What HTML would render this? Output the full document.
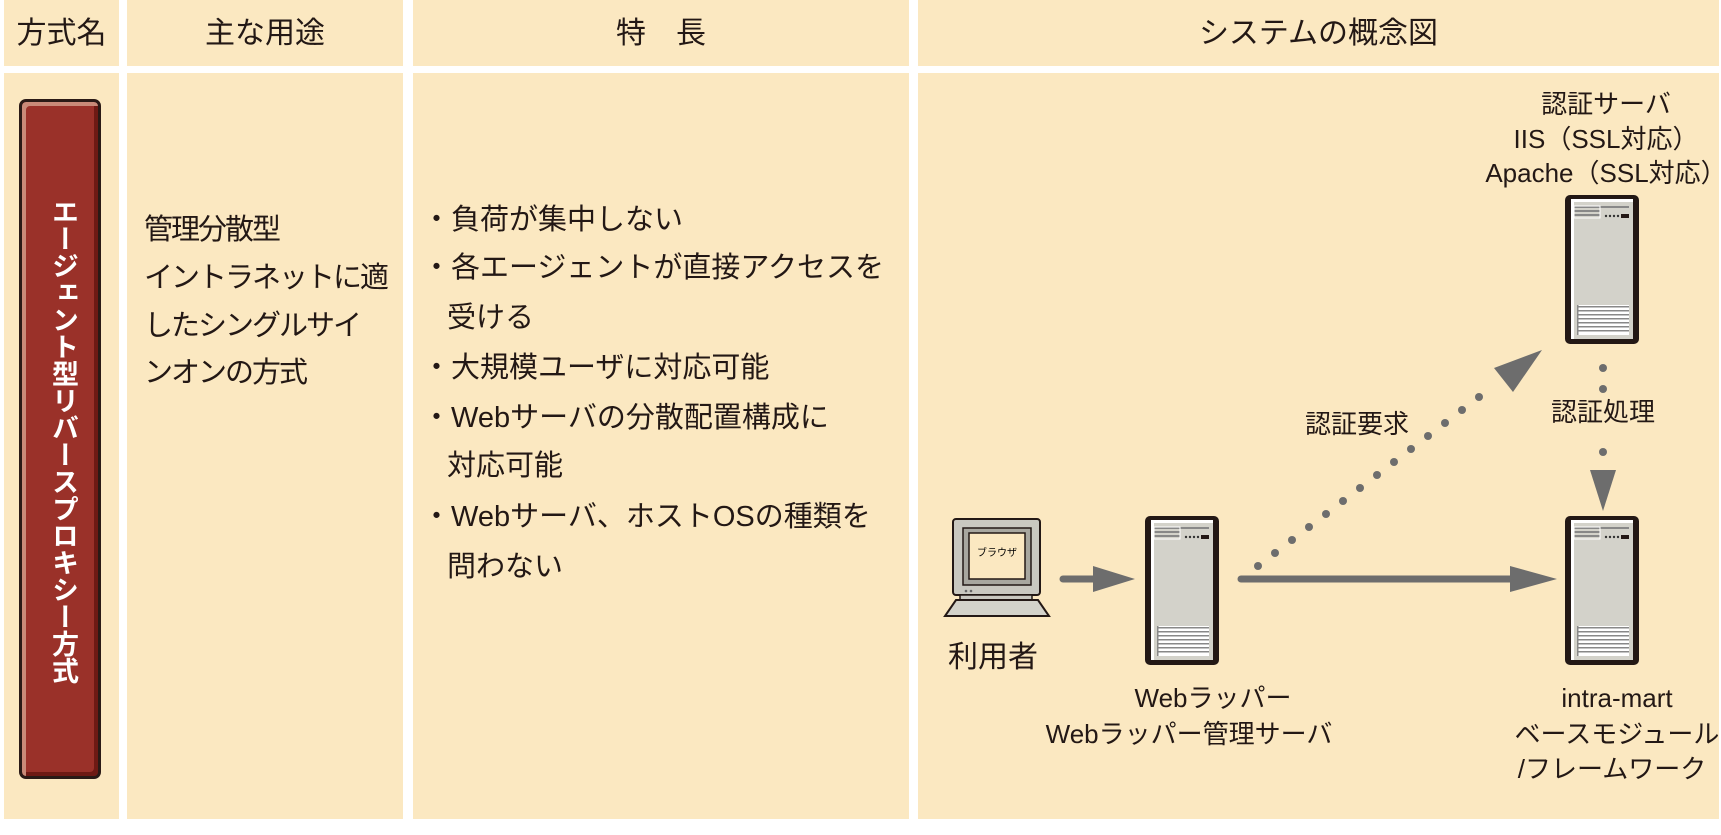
<!DOCTYPE html>
<html><head><meta charset="utf-8"><style>
body{margin:0;width:1721px;height:835px;background:#fff;position:relative;overflow:hidden;font-family:"Liberation Sans","Noto Sans CJK JP",sans-serif;color:#231815}
.c{position:absolute;background:#fbe8c1}
.t{position:absolute;white-space:nowrap;font-size:26px;line-height:26px}
.h{font-size:30px;line-height:30px;text-align:center}
.f{font-size:29px;line-height:29px}
.g{font-size:29px;line-height:29px;letter-spacing:-2px}
.d{position:absolute;white-space:nowrap;font-size:26px;line-height:26px;text-align:center;transform:translateX(-50%)}
</style></head><body>
<div class="c" style="left:4px;top:0;width:115px;height:66px"></div>
<div class="c" style="left:127px;top:0;width:276px;height:66px"></div>
<div class="c" style="left:413px;top:0;width:496px;height:66px"></div>
<div class="c" style="left:918px;top:0;width:801px;height:66px"></div>
<div class="c" style="left:4px;top:73px;width:115px;height:746px"></div>
<div class="c" style="left:127px;top:73px;width:276px;height:746px"></div>
<div class="c" style="left:413px;top:73px;width:496px;height:746px"></div>
<div class="c" style="left:918px;top:73px;width:801px;height:746px"></div>

<div class="t h" style="left:4px;top:19px;width:115px">方式名</div>
<div class="t h" style="left:127px;top:19px;width:276px">主な用途</div>
<div class="t h" style="left:413px;top:19px;width:496px">特　長</div>
<div class="t h" style="left:918px;top:19px;width:801px">システムの概念図</div>

<div style="position:absolute;left:19px;top:99px;width:82px;height:680px;box-sizing:border-box;border:3px solid #2a1a16;border-radius:7px;background:#9a3129;box-shadow:inset 4px 4px 0 #c98a78,inset -4px -4px 0 #6e1a14"></div>
<div style="position:absolute;left:44px;top:198px;width:34px;height:560px;color:#fff;font-weight:bold;font-size:27px;line-height:30px;writing-mode:vertical-rl;white-space:nowrap">エージェント型リバースプロキシー方式</div>

<div class="t g" style="left:144px;top:216px">管理分散型</div>
<div class="t g" style="left:144px;top:264px">イントラネットに適</div>
<div class="t g" style="left:144px;top:312px">したシングルサイ</div>
<div class="t g" style="left:144px;top:359px">ンオンの方式</div>

<div class="t f" style="left:422px;top:206px">・負荷が集中しない</div>
<div class="t f" style="left:422px;top:254px">・各エージェントが直接アクセスを</div>
<div class="t f" style="left:447px;top:304px">受ける</div>
<div class="t f" style="left:422px;top:354px">・大規模ユーザに対応可能</div>
<div class="t f" style="left:422px;top:404px">・Webサーバの分散配置構成に</div>
<div class="t f" style="left:447px;top:452px">対応可能</div>
<div class="t f" style="left:422px;top:503px">・Webサーバ、ホストOSの種類を</div>
<div class="t f" style="left:447px;top:553px">問わない</div>

<svg style="position:absolute;left:0;top:0" width="1721" height="835">
<defs>
<g id="srv">
<rect x="2" y="2" width="74" height="149" rx="5" fill="#231815"/>
<rect x="8" y="6" width="62" height="140" fill="#d3d2ca"/>
<rect x="8" y="6" width="62" height="3" fill="#fff"/>
<rect x="8" y="6" width="3" height="140" fill="#fff"/>
<rect x="11" y="13" width="55" height="2" fill="#888"/>
<rect x="11" y="17" width="26" height="2" fill="#888"/>
<rect x="11" y="21" width="26" height="2" fill="#888"/>
<rect x="11" y="13" width="26" height="12" fill="none" stroke="#fff" stroke-width="1"/>
<circle cx="43" cy="23" r="1.2" fill="#333"/><circle cx="47" cy="23" r="1.2" fill="#333"/><circle cx="51" cy="23" r="1.2" fill="#333"/><circle cx="55" cy="23" r="1.2" fill="#333"/>
<rect x="58" y="21" width="8" height="4" fill="#231815"/>
<rect x="14" y="112" width="52" height="30" fill="#fff"/>
<g fill="#888"><rect x="14" y="113" width="52" height="1.5"/><rect x="14" y="117" width="52" height="1.5"/><rect x="14" y="121" width="52" height="1.5"/><rect x="14" y="125" width="52" height="1.5"/><rect x="14" y="129" width="52" height="1.5"/><rect x="14" y="133" width="52" height="1.5"/><rect x="14" y="137" width="52" height="1.5"/><rect x="14" y="112" width="1.5" height="30"/></g>
</g>
</defs>
<use href="#srv" x="1143" y="514"/>
<use href="#srv" x="1563" y="514"/>
<use href="#srv" x="1563" y="193"/>
<rect x="953" y="519" width="87" height="76" rx="3" fill="#c9c8c0" stroke="#231815" stroke-width="2"/>
<rect x="963" y="528" width="68" height="57" fill="#a8a79f" stroke="#231815" stroke-width="1.5"/>
<rect x="969" y="533" width="56" height="46" fill="#fbe8c1" stroke="#231815" stroke-width="1.5"/>
<text x="997" y="556" font-size="10" text-anchor="middle" font-family="Liberation Sans,Noto Sans CJK JP,sans-serif">ブラウザ</text>
<circle cx="966" cy="591" r="1.3" fill="#666"/><circle cx="971" cy="591" r="1.3" fill="#666"/>
<rect x="960" y="595" width="72" height="5" fill="#c9c8c0" stroke="#231815" stroke-width="1.5"/>
<polygon points="956,600 1038,600 1049,616 945,616" fill="#d3d2ca" stroke="#231815" stroke-width="2"/>
<g stroke="#6d6d6d" stroke-width="7" stroke-linecap="round">
<line x1="1063" y1="579" x2="1098" y2="579"/>
<line x1="1241" y1="579" x2="1520" y2="579"/>
</g>
<polygon points="1093,566 1135,579 1093,592" fill="#6d6d6d"/>
<polygon points="1510,566 1557,579 1510,592" fill="#6d6d6d"/>
<g fill="#6d6d6d">
<circle cx="1258" cy="566" r="4"/><circle cx="1275" cy="553" r="4"/><circle cx="1292" cy="540" r="4"/><circle cx="1309" cy="527" r="4"/><circle cx="1326" cy="514" r="4"/><circle cx="1343" cy="501" r="4"/><circle cx="1360" cy="488" r="4"/><circle cx="1377" cy="475" r="4"/><circle cx="1394" cy="462" r="4"/><circle cx="1411" cy="449" r="4"/><circle cx="1428" cy="436" r="4"/><circle cx="1445" cy="423" r="4"/><circle cx="1462" cy="410" r="4"/><circle cx="1479" cy="397" r="4"/>
<polygon points="1542,350 1513,392 1494,368"/>
<circle cx="1603" cy="368" r="4"/><circle cx="1603" cy="389" r="4"/><circle cx="1603" cy="452" r="4"/>
<polygon points="1590,470 1616,470 1603,511"/>
</g>
</svg>

<div class="d" style="left:993px;top:643px;font-size:30px;line-height:30px">利用者</div>
<div class="d" style="left:1213px;top:685px">Webラッパー</div>
<div class="d" style="left:1189px;top:721px">Webラッパー管理サーバ</div>
<div class="d" style="left:1617px;top:685px">intra-mart</div>
<div class="d" style="left:1617px;top:721px">ベースモジュール</div>
<div class="d" style="left:1612px;top:756px">/フレームワーク</div>
<div class="d" style="left:1357px;top:411px">認証要求</div>
<div class="d" style="left:1603px;top:399px">認証処理</div>
<div class="d" style="left:1606px;top:91px">認証サーバ</div>
<div class="d" style="left:1606px;top:126px">IIS（SSL対応）</div>
<div class="d" style="left:1606px;top:160px">Apache（SSL対応）</div>
</body></html>
